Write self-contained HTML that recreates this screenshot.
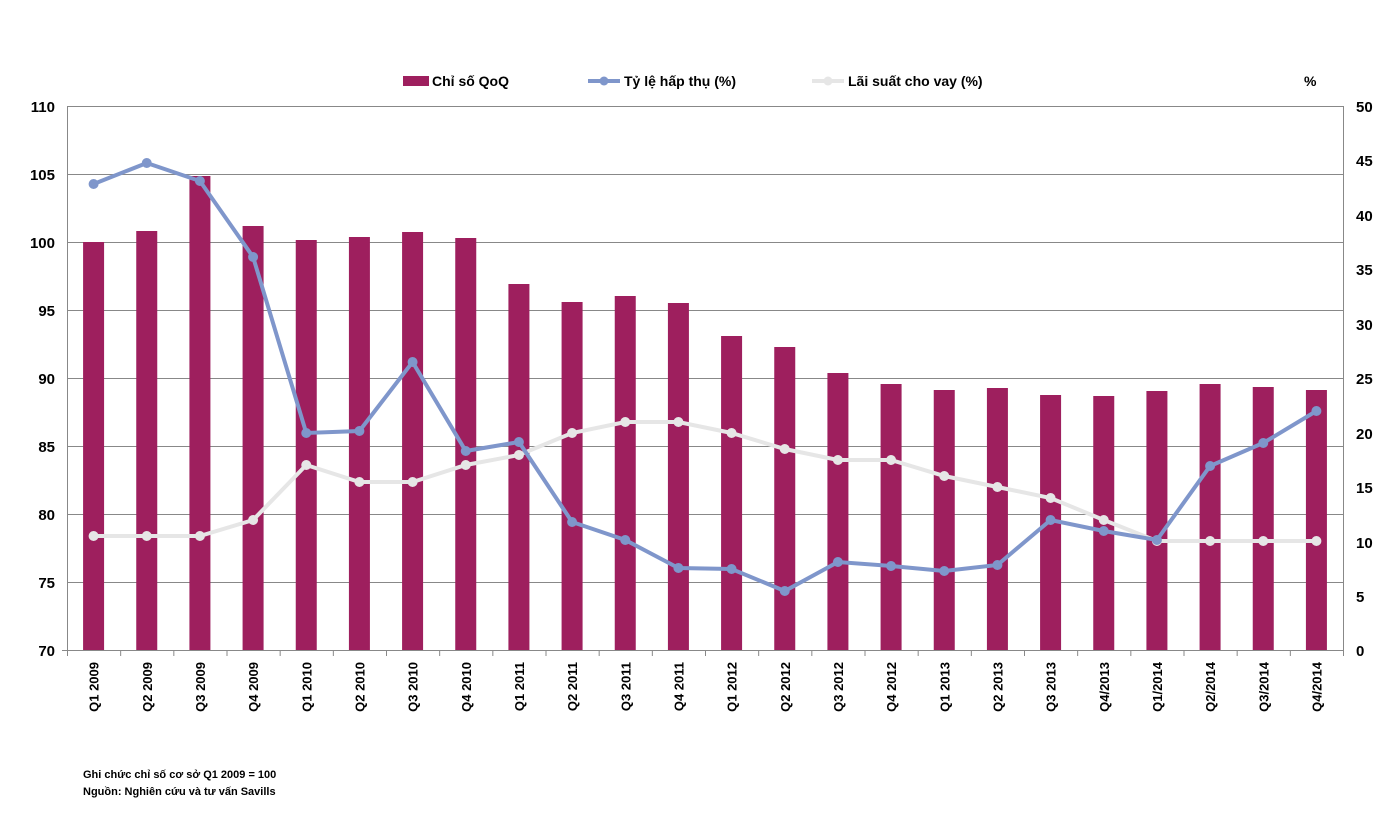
<!DOCTYPE html>
<html><head><meta charset="utf-8"><style>
body{margin:0;background:#fff;}
svg{display:block;font-family:"Liberation Sans",sans-serif;}
</style></head><body>
<svg width="1395" height="817" viewBox="0 0 1395 817" xmlns="http://www.w3.org/2000/svg">
<g stroke="#888" stroke-width="1">
<line x1="67" y1="106.5" x2="1343" y2="106.5"/>
<line x1="67" y1="174.5" x2="1343" y2="174.5"/>
<line x1="67" y1="242.5" x2="1343" y2="242.5"/>
<line x1="67" y1="310.5" x2="1343" y2="310.5"/>
<line x1="67" y1="378.5" x2="1343" y2="378.5"/>
<line x1="67" y1="446.5" x2="1343" y2="446.5"/>
<line x1="67" y1="514.5" x2="1343" y2="514.5"/>
<line x1="67" y1="582.5" x2="1343" y2="582.5"/>
<line x1="62" y1="650.5" x2="1343" y2="650.5"/>
<line x1="67.5" y1="106" x2="67.5" y2="650"/>
<line x1="1343.5" y1="106" x2="1343.5" y2="650"/>
</g>
<g stroke="#888" id="ticks"></g>
<g fill="#9e1f5e" id="bars"></g>
<g font-size="15" font-weight="bold" fill="#000" text-anchor="end">
<text x="55" y="112">110</text><text x="55" y="180">105</text><text x="55" y="248">100</text><text x="55" y="316">95</text><text x="55" y="384">90</text><text x="55" y="452">85</text><text x="55" y="520">80</text><text x="55" y="588">75</text><text x="55" y="656">70</text>
</g>
<g font-size="15" font-weight="bold" fill="#000" text-anchor="start">
<text x="1356" y="112">50</text><text x="1356" y="166">45</text><text x="1356" y="221">40</text><text x="1356" y="275">35</text><text x="1356" y="330">30</text><text x="1356" y="384">25</text><text x="1356" y="439">20</text><text x="1356" y="493">15</text><text x="1356" y="548">10</text><text x="1356" y="602">5</text><text x="1356" y="656">0</text>
</g>
<g id="lines"></g>
<g id="xl" font-size="13" font-weight="bold" fill="#000"></g>
<rect x="403" y="76" width="26" height="10" fill="#9e1f5e"/>
<text x="432" y="86" font-size="14" font-weight="bold">Chỉ số QoQ</text>
<line x1="588" y1="81" x2="620" y2="81" stroke="#7f96cb" stroke-width="4"/><circle cx="604" cy="81" r="4.5" fill="#7f96cb"/>
<text x="624" y="86" font-size="14" font-weight="bold">Tỷ lệ hấp thụ (%)</text>
<line x1="812" y1="81" x2="844" y2="81" stroke="#e6e6e6" stroke-width="4"/><circle cx="828" cy="81" r="4.5" fill="#e6e6e6"/>
<text x="848" y="86" font-size="14" font-weight="bold">Lãi suất cho vay (%)</text>
<text x="1304" y="86" font-size="14" font-weight="bold">%</text>
<text x="83" y="778" font-size="11" font-weight="bold">Ghi chức chỉ số cơ sở Q1 2009 = 100</text>
<text x="83" y="795" font-size="11" font-weight="bold">Nguồn: Nghiên cứu và tư vấn Savills</text>
</svg>
<script>
var ns="http://www.w3.org/2000/svg";
function el(p,t,a,txt){var e=document.createElementNS(ns,t);for(var k in a)e.setAttribute(k,a[k]);if(txt)e.textContent=txt;document.getElementById(p).appendChild(e);return e;}
var W=1276/24;
var tops=[242,231,176,226,240,237,232,238,284,302,296,303,336,347,373,384,390,388,395,396,391,384,387,390];
var blue=[184,163,181,257,433,431,362,451,442,522,540,568,569,591,562,566,571,565,520,531,540,466,443,411];
var gray=[536,536,536,520,465,482,482,465,455,433,422,422,433,449,460,460,476,487,498,520,541,541,541,541];
var labs=["Q1 2009","Q2 2009","Q3 2009","Q4 2009","Q1 2010","Q2 2010","Q3 2010","Q4 2010","Q1 2011","Q2 2011","Q3 2011","Q4 2011","Q1 2012","Q2 2012","Q3 2012","Q4 2012","Q1 2013","Q2 2013","Q3 2013","Q4/2013","Q1/2014","Q2/2014","Q3/2014","Q4/2014"];
for(var i=0;i<=24;i++){var x=67.5+i*W;el("ticks","line",{x1:x,y1:650,x2:x,y2:656});}
var bp="",gp="";
for(var i=0;i<24;i++){var cx=67+W*(i+0.5);
el("bars","rect",{x:cx-10.5,y:tops[i],width:21,height:650-tops[i]});
bp+=(i?"L":"M")+cx+","+blue[i];gp+=(i?"L":"M")+cx+","+gray[i];
var t=el("xl","text",{x:0,y:0,"text-anchor":"end",transform:"translate("+(cx+5)+",662) rotate(-90)"},labs[i]);}
el("lines","path",{d:gp,fill:"none",stroke:"#e6e6e6","stroke-width":4});
for(var i=0;i<24;i++){el("lines","circle",{cx:67+W*(i+0.5),cy:gray[i],r:5,fill:"#e6e6e6"});}
el("lines","path",{d:bp,fill:"none",stroke:"#7f96cb","stroke-width":4});
for(var i=0;i<24;i++){el("lines","circle",{cx:67+W*(i+0.5),cy:blue[i],r:5,fill:"#7f96cb"});}
</script>
</body></html>
